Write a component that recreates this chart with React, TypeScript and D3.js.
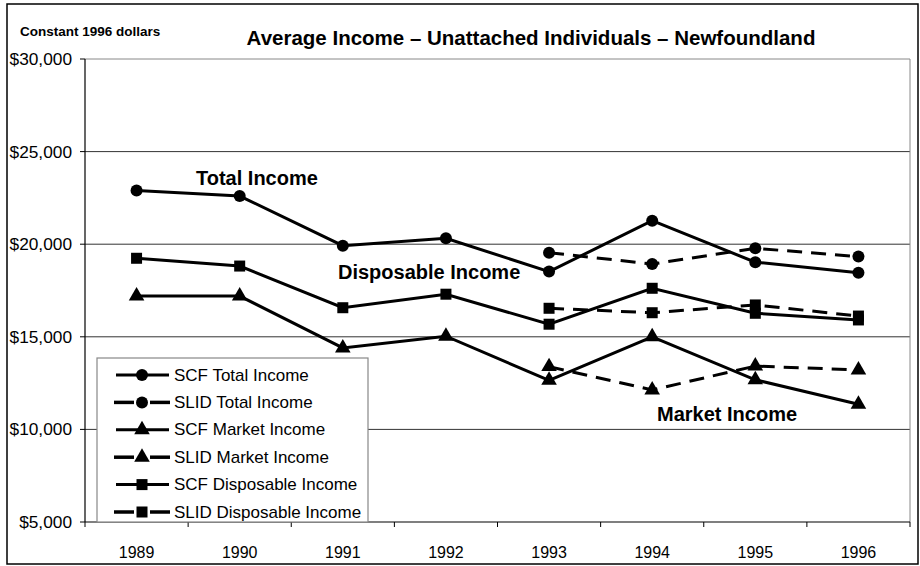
import React from "react";
import * as d3 from "d3";

const years = ["1989", "1990", "1991", "1992", "1993", "1994", "1995", "1996"];
const slidYears = ["1993", "1994", "1995", "1996"];
const yTicks = [5000, 10000, 15000, 20000, 25000, 30000];

const scfTotal = [22900, 22600, 19920, 20320, 18520, 21270, 19030, 18460];
const slidTotal = [19540, 18930, 19780, 19330];
const scfMarket = [17200, 17200, 14400, 15030, 12650, 15000, 12680, 11360];
const slidMarket = [13390, 12130, 13420, 13210];
const scfDisposable = [19240, 18820, 16570, 17300, 15680, 17620, 16270, 15910];
const slidDisposable = [16540, 16300, 16720, 16120];

type Shape = "circle" | "triangle" | "square";
const series: { name: string; years: string[]; values: number[]; shape: Shape; dashed: boolean }[] = [
  { name: "SCF Total Income", years, values: scfTotal, shape: "circle", dashed: false },
  { name: "SLID Total Income", years: slidYears, values: slidTotal, shape: "circle", dashed: true },
  { name: "SCF Market Income", years, values: scfMarket, shape: "triangle", dashed: false },
  { name: "SLID Market Income", years: slidYears, values: slidMarket, shape: "triangle", dashed: true },
  { name: "SCF Disposable Income", years, values: scfDisposable, shape: "square", dashed: false },
  { name: "SLID Disposable Income", years: slidYears, values: slidDisposable, shape: "square", dashed: true },
];

const FONT = "Liberation Sans, Arial, sans-serif";

function Marker({ shape, x, y }: { shape: Shape; x: number; y: number }) {
  if (shape === "circle") return <circle cx={x} cy={y} r={6} fill="#000" />;
  if (shape === "square") return <rect x={x - 5.5} y={y - 5.5} width={11} height={11} fill="#000" />;
  const p = d3.symbol().type(d3.symbolTriangle).size(105)();
  return <path d={p || ""} transform={`translate(${x},${y})`} fill="#000" />;
}

export default function App() {
  const left = 85, right = 910, top = 59, bottom = 522;
  const x = d3.scaleBand<string>().domain(years).range([left, right]);
  const y = d3.scaleLinear().domain([5000, 30000]).range([bottom, top]);
  const cx = (yr: string) => (x(yr) as number) + x.bandwidth() / 2;
  const line = d3.line<[number, number]>().x((d) => d[0]).y((d) => d[1]);

  const legX = 97, legY = 358, legW = 271, legH = 164;
  const rowH = 27.4;

  return (
    <svg width={920} height={566} style={{ position: "absolute", left: 0, top: 0, background: "#fff" }} fontFamily={FONT}>
      <rect x={7} y={4} width={911} height={560} fill="#fff" stroke="#000" strokeWidth={1.5} />
      <text x={20} y={36} fontSize={13.5} fontWeight="bold">Constant 1996 dollars</text>
      <text x={531} y={45} fontSize={20.5} fontWeight="bold" textAnchor="middle">
        Average Income – Unattached Individuals – Newfoundland
      </text>

      {/* gridlines */}
      {yTicks.filter((t) => t !== 5000).map((t) => (
        <line key={t} x1={left} x2={right} y1={y(t)} y2={y(t)} stroke={t === 30000 ? "#888" : "#333"} strokeWidth={1} />
      ))}
      <line x1={right} x2={right} y1={top} y2={bottom} stroke="#888" strokeWidth={1} />

      {/* y axis */}
      <line x1={left} x2={left} y1={top} y2={bottom} stroke="#000" strokeWidth={1.2} />
      {yTicks.map((t) => (
        <g key={t}>
          <line x1={left - 5} x2={left} y1={y(t)} y2={y(t)} stroke="#000" />
          <text x={72} y={y(t) + 6} fontSize={17.3} textAnchor="end">{d3.format("$,")(t)}</text>
        </g>
      ))}

      {/* x axis */}
      <line x1={left} x2={right} y1={bottom} y2={bottom} stroke="#000" strokeWidth={1.2} />
      {years.map((yr) => (
        <g key={yr}>
          <line x1={x(yr) as number} x2={x(yr) as number} y1={bottom} y2={bottom + 5} stroke="#000" />
          <text x={cx(yr)} y={558} fontSize={16} textAnchor="middle">{yr}</text>
        </g>
      ))}
      <line x1={right} x2={right} y1={bottom} y2={bottom + 5} stroke="#000" />

      {/* series */}
      {series.map((s) => {
        const pts = s.values.map((v, i) => [cx(s.years[i]), y(v)] as [number, number]);
        return (
          <g key={s.name}>
            <path d={line(pts) || ""} fill="none" stroke="#000" strokeWidth={3} strokeDasharray={s.dashed ? "15,9" : undefined} />
            {pts.map((p, i) => <Marker key={i} shape={s.shape} x={p[0]} y={p[1]} />)}
          </g>
        );
      })}

      {/* annotations */}
      <text x={196} y={185} fontSize={20} fontWeight="bold">Total Income</text>
      <text x={338} y={279} fontSize={20} fontWeight="bold">Disposable Income</text>
      <text x={657} y={421} fontSize={20} fontWeight="bold">Market Income</text>

      {/* legend */}
      <rect x={legX} y={legY} width={legW} height={legH} fill="#fff" stroke="#888" strokeWidth={1.2} />
      {series.map((s, i) => {
        const ry = legY + 17 + i * rowH;
        const mx = 142;
        return (
          <g key={s.name}>
            {s.dashed ? (
              <>
                <line x1={114} x2={134} y1={ry} y2={ry} stroke="#000" strokeWidth={3.5} />
                <line x1={150} x2={170} y1={ry} y2={ry} stroke="#000" strokeWidth={3.5} />
              </>
            ) : (
              <line x1={116} x2={169} y1={ry} y2={ry} stroke="#000" strokeWidth={3} />
            )}
            <Marker shape={s.shape} x={mx} y={ry} />
            <text x={174} y={ry + 5.5} fontSize={17}>{s.name}</text>
          </g>
        );
      })}
    </svg>
  );
}
